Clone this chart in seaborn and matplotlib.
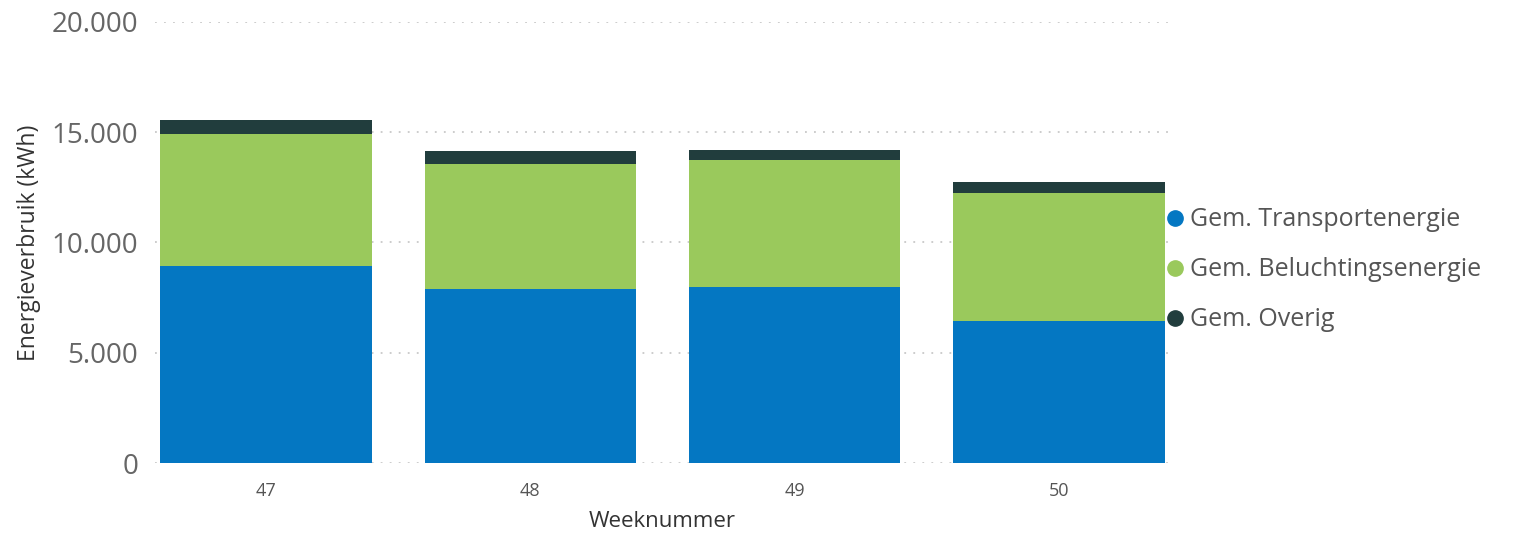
# 주간 에너지 사용량 누적 막대 그래프
import pandas as pd
import matplotlib
matplotlib.use('Agg')
import matplotlib.pyplot as plt
from matplotlib.lines import Line2D
from matplotlib.ticker import FuncFormatter
import seaborn as sns

# 데이터
weken = ['47', '48', '49', '50']
transport = [8950, 7890, 8000, 6420]
beluchting = [5980, 5690, 5725, 5830]
overig = [610, 560, 490, 500]
series_namen = ['Gem. Transportenergie', 'Gem. Beluchtingsenergie', 'Gem. Overig']

kleur_blauw = '#0477C2'
kleur_groen = '#9AC95C'
kleur_donker = '#213D3D'

sns.set_style('white')
plt.rcParams['font.family'] = ['Open Sans', 'DejaVu Sans']

df = pd.DataFrame({'week': weken, 'transport': transport,
                   'beluchting': beluchting, 'overig': overig})
# 누적 합계
df['top_beluchting'] = df['transport'] + df['beluchting']
df['totaal'] = df['top_beluchting'] + df['overig']

fig = plt.figure(figsize=(15.36, 5.33), dpi=100)
ax = fig.add_axes([155 / 1536, 70 / 533, (1170 - 155) / 1536, 441 / 533])

# 제일 긴 막대부터 겹쳐 그리기
sns.barplot(data=df, x='week', y='totaal', color=kleur_donker, width=0.8,
            saturation=1, linewidth=0, ax=ax)
sns.barplot(data=df, x='week', y='top_beluchting', color=kleur_groen, width=0.8,
            saturation=1, linewidth=0, ax=ax)
sns.barplot(data=df, x='week', y='transport', color=kleur_blauw, width=0.8,
            saturation=1, linewidth=0, ax=ax)

ax.set_ylim(0, 20000)
ax.set_xlim(-0.42, 3.42)
ax.set_yticks([0, 5000, 10000, 15000, 20000])
ax.yaxis.set_major_formatter(FuncFormatter(lambda v, p: f'{int(v):,}'.replace(',', '.')))

ax.yaxis.grid(True, linestyle=(0, (1, 4)), color='#c8c8c8', linewidth=1.3)
ax.set_axisbelow(True)
sns.despine(ax=ax, left=True, bottom=True)
ax.tick_params(axis='y', length=0, pad=12, labelsize=20, labelcolor='#666666')
ax.tick_params(axis='x', length=0, pad=14, labelsize=13, labelcolor='#555555')

ax.set_ylabel('Energieverbruik (kWh)', fontsize=16.5, color='#333333')
ax.yaxis.set_label_coords(-0.112, 0.5)
ax.set_xlabel('Weeknummer', fontsize=16, color='#333333')
ax.xaxis.set_label_coords(0.5, -0.108)

# 범례
handles = [Line2D([], [], marker='o', linestyle='', markersize=11, color=c)
           for c in [kleur_blauw, kleur_groen, kleur_donker]]
fig.legend(handles, series_namen, loc='center left',
           bbox_to_anchor=(1166 / 1536, (533 - 270) / 533), frameon=False,
           fontsize=18, labelcolor='#555555', handlelength=0.7,
           handletextpad=0.25, labelspacing=1.0, borderpad=0, borderaxespad=0)

plt.savefig('out.png', dpi=100)
